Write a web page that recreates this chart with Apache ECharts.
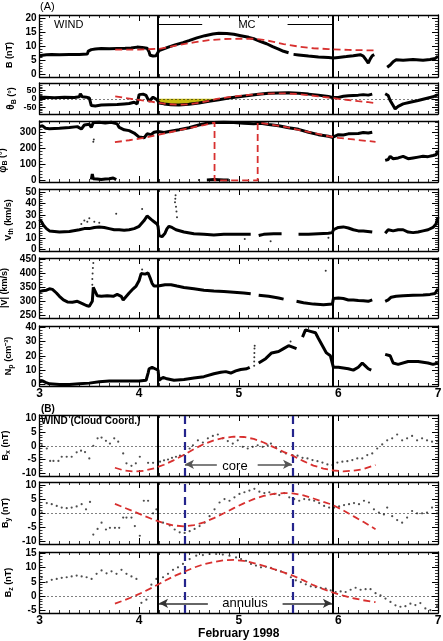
<!DOCTYPE html>
<html><head><meta charset="utf-8">
<script src="https://cdn.jsdelivr.net/npm/echarts@6.0.0/dist/echarts.min.js"></script>
<style>html,body{margin:0;padding:0;background:#fff;}#c{width:443px;height:641px;}</style>
</head><body><div id="c"></div>
<script>
// ================= DATA =================
const xTicks = [3, 4, 5, 6, 7];
const cloudBounds = [4.193, 5.94];
const coreBounds = [4.457, 5.54];

// (A) |B| (nT)
const bMag = [[3.0,6.5],[3.03,6.8],[3.07,7.0],[3.12,7.1],[3.2,7.0],[3.3,7.1],[3.4,7.1],[3.48,7.2],[3.49,8.3],[3.52,8.8],[3.56,9.0],[3.62,9.2],[3.7,9.1],[3.78,9.2],[3.86,9.3],[3.92,9.4],[3.98,9.7],[4.03,9.6],[4.08,9.3],[4.1,8.0],[4.11,6.8],[4.14,6.5],[4.17,6.6],[4.19,7.0],
 [4.2,8.5],[4.24,9.0],[4.3,9.8],[4.36,10.5],[4.44,11.3],[4.5,12.0],[4.58,13.0],[4.66,13.8],[4.74,14.4],[4.8,14.7],[4.88,14.6],[4.95,14.3],[5.02,13.8],[5.1,13.2],[5.16,12.6],[5.22,11.7],[5.28,10.9],[5.34,9.9],[5.4,9.0],[5.45,8.2],[5.5,7.7],[5.52,null],
 [5.55,7.1],[5.6,6.9],[5.7,6.5],[5.8,6.2],[5.9,6.0],[5.95,5.8],[6.0,6.0],[6.08,6.3],[6.15,6.6],[6.22,7.0],[6.25,6.5],[6.28,5.0],[6.3,4.0],[6.32,5.5],[6.34,6.6],[6.36,7.0],[6.38,null],
 [6.49,2.5],[6.52,3.3],[6.55,4.5],[6.58,5.2],[6.65,5.0],[6.75,5.3],[6.85,5.0],[6.92,5.3],[6.97,5.6],[7.0,6.5]];
const bModel = [[3.76,8.8],[4.0,8.8],[4.2,9.1],[4.3,9.7],[4.4,10.5],[4.55,11.4],[4.7,12.2],[4.85,12.6],[5.0,12.7],[5.15,12.7],[5.25,12.3],[5.35,11.6],[5.45,10.8],[5.6,9.9],[5.75,9.3],[5.9,9.0],[6.1,8.7],[6.37,8.5]];

// θ_B (deg)
const thetaData = [[3.0,8],[3.05,10],[3.15,7],[3.25,9],[3.35,8],[3.4,12],[3.41,30],[3.43,12],[3.47,10],[3.5,5],[3.52,-40],[3.56,-42],[3.62,-37],[3.7,-35],[3.78,-33],[3.85,-30],[3.9,-28],[3.95,-20],[3.98,-30],[4.0,25],[4.04,28],[4.07,20],[4.1,-15],[4.12,-20],[4.14,10],[4.16,15],[4.18,-5],[4.19,-15],
 [4.2,-25],[4.25,-30],[4.32,-35],[4.4,-36],[4.5,-32],[4.6,-25],[4.7,-15],[4.8,-5],[4.9,5],[5.0,12],[5.1,20],[5.2,27],[5.3,33],[5.4,35],[5.5,36],[5.6,33],[5.7,28],[5.8,22],[5.9,14],[5.94,8],
 [5.95,5],[6.0,8],[6.05,15],[6.1,18],[6.15,20],[6.2,22],[6.25,25],[6.3,22],[6.34,28],[6.36,null],[6.47,30],[6.48,40],[6.5,20],[6.52,-10],[6.55,-40],[6.57,-60],[6.6,-45],[6.65,-30],[6.72,-20],[6.8,-10],[6.9,5],[6.95,12],[7.0,25]];
const thetaModel = [[3.76,15],[3.85,6],[3.95,-3],[4.05,-11],[4.12,-17],[4.2,-24],[4.3,-32],[4.4,-35],[4.5,-32],[4.6,-24],[4.7,-12],[4.78,0],[4.9,10],[5.0,17],[5.1,23],[5.2,28],[5.3,31],[5.4,33],[5.5,32],[5.6,28],[5.7,22],[5.8,15],[5.9,8],[6.0,0],[6.1,-7],[6.2,-14],[6.3,-20],[6.37,-25]];
const thetaFill = [[4.2,-24],[4.3,-32],[4.4,-35],[4.5,-32],[4.6,-24],[4.7,-12],[4.78,0]];

// φ_B (deg)
const phiData = [[3.0,335],[3.03,340],[3.06,325],[3.1,322],[3.2,325],[3.3,330],[3.38,335],[3.4,340],[3.42,320],[3.45,345],[3.5,350],[3.52,330],[3.54,360],[3.6,362],[3.66,358],[3.72,362],[3.78,352],[3.8,330],[3.85,315],[3.9,310],[3.95,295],[4.0,270],[4.05,265],[4.08,290],[4.12,285],[4.15,300],[4.19,305],
 [4.2,295],[4.25,298],[4.3,305],[4.4,315],[4.5,328],[4.6,345],[4.68,356],[4.75,360],[4.85,362],[4.95,360],[5.05,356],[5.15,353],[5.22,356],[5.3,348],[5.4,340],[5.5,328],[5.6,318],[5.7,300],[5.8,285],[5.9,275],[5.94,268],
 [5.95,280],[6.0,285],[6.05,283],[6.1,290],[6.2,292],[6.25,298],[6.3,295],[6.34,300],[6.36,null],[6.47,125],[6.5,130],[6.52,150],[6.55,135],[6.6,140],[6.65,150],[6.7,135],[6.75,140],[6.8,145],[6.85,150],[6.9,148],[6.95,155],[6.98,160],[7.0,185]];
const phiWrapped = [[3.52,5],[3.53,40],[3.54,10],[3.58,8],[3.62,5],[3.66,8],[3.7,10],[3.74,15],[3.77,5],[3.78,null],[4.68,3],[4.75,5],[4.85,2],[4.9,3]];
const phiDots = [[3.54,240],[3.545,255],[4.6,2]];
const phiModel = [[3.757,238],[3.9,250],[4.05,265],[4.2,285],[4.35,305],[4.5,325],[4.65,345],[4.757,360],[4.757,0],[5.19,0],[5.19,360],[5.3,350],[5.45,335],[5.6,315],[5.75,295],[5.9,275],[6.0,265],[6.15,255],[6.3,245],[6.373,240]];

// V_th (km/s)
const vthData = [[3.0,26],[3.02,24],[3.04,21],[3.07,18],[3.1,16],[3.15,15.5],[3.2,15],[3.3,15.5],[3.4,17],[3.45,18],[3.5,18],[3.55,19],[3.6,19.5],[3.65,19],[3.7,18],[3.75,17],[3.8,17],[3.85,16.5],[3.9,17],[3.95,18],[4.0,20],[4.05,25],[4.08,29],[4.1,30],[4.12,26],[4.15,24],[4.18,22],[4.19,20],
 [4.2,12],[4.23,11],[4.26,14],[4.28,18],[4.3,20],[4.33,19],[4.37,17],[4.45,15],[4.55,13.5],[4.65,13],[4.75,12.5],[4.85,13],[4.95,13],[5.05,13],[5.12,13],[5.14,null],[5.2,12],[5.25,13],[5.35,13.5],[5.43,13.5],[5.45,null],[5.6,13],[5.7,13],[5.8,13.5],[5.9,14],[5.94,14.5],
 [5.95,17],[6.0,19],[6.05,19.5],[6.1,18.5],[6.15,17],[6.2,16],[6.25,16],[6.34,15],[6.36,null],[6.47,14],[6.5,17],[6.55,16],[6.6,17],[6.65,17],[6.7,15],[6.75,14.5],[6.8,15],[6.85,16],[6.9,17],[6.95,19],[6.98,22],[7.0,28]];
const vthDots = [[4.36,41],[4.363,44],[4.366,47],[4.37,37],[4.375,33],[4.38,28],[3.77,31],[4.03,35],[5.06,9],[5.32,7],[5.9,10],[3.45,25],[3.48,24],[3.5,27],[3.55,24],[3.6,23],[3.42,22]];

// |V| (km/s)
const speedData = [[3.0,335],[3.03,338],[3.07,340],[3.1,345],[3.13,343],[3.17,330],[3.2,318],[3.24,305],[3.28,298],[3.33,297],[3.38,300],[3.43,292],[3.47,285],[3.5,282],[3.52,278],[3.53,300],[3.54,350],[3.56,345],[3.58,320],[3.62,318],[3.68,320],[3.74,318],[3.78,325],[3.82,318],[3.84,305],[3.86,310],[3.9,330],[3.94,345],[3.97,355],[4.0,375],[4.02,400],[4.06,398],[4.09,402],[4.11,385],[4.13,365],[4.15,355],[4.19,355],
 [4.2,355],[4.26,360],[4.32,360],[4.38,355],[4.45,350],[4.55,345],[4.65,340],[4.75,337],[4.85,335],[4.95,333],[5.05,330],[5.12,327],[5.14,null],[5.2,322],[5.3,318],[5.4,312],[5.45,308],[5.5,null],[5.58,300],[5.65,295],[5.75,290],[5.85,288],[5.94,290],
 [5.95,310],[6.0,312],[6.05,310],[6.1,305],[6.15,305],[6.2,303],[6.25,302],[6.3,300],[6.34,305],[6.36,null],[6.47,300],[6.5,305],[6.53,315],[6.58,318],[6.65,320],[6.75,322],[6.85,323],[6.92,325],[6.97,328],[7.0,345]];
const speedDots = [[3.53,380],[3.533,400],[3.536,420],[3.54,438],[3.53,360],[5.873,410],[4.03,415]];

// N_p (cm^-3)
const densData = [[3.0,2],[3.03,2.5],[3.06,1.5],[3.1,0.5],[3.2,0],[3.3,0],[3.4,0.5],[3.5,1],[3.6,2],[3.7,2.5],[3.8,2.5],[3.9,2.5],[4.0,2.5],[4.07,3],[4.09,8],[4.1,11],[4.13,12],[4.16,11],[4.19,10],
 [4.2,3],[4.24,5],[4.28,4],[4.35,3],[4.45,3.5],[4.55,4.5],[4.65,5.5],[4.75,7.5],[4.82,8.5],[4.87,9],[4.92,8],[4.97,9.5],[5.02,10.5],[5.08,11],[5.11,12],[5.12,null],[5.2,15],[5.27,18],[5.33,22],[5.4,23],[5.45,25],[5.5,27],[5.54,26],[5.58,25],[5.6,null],[5.64,33],[5.67,38],[5.72,37],[5.77,36],[5.8,32],[5.84,27],[5.88,22],[5.92,20],[5.94,19],
 [5.95,12],[6.0,12],[6.05,11.5],[6.1,11],[6.15,10],[6.2,12],[6.24,15],[6.27,13],[6.3,11],[6.33,10],[6.34,null],[6.47,21],[6.52,20],[6.55,15],[6.6,14],[6.7,16],[6.8,16],[6.9,15],[6.95,14],[7.0,15]];
const densDots = [[5.155,13],[5.155,16],[5.156,19],[5.157,22],[5.158,25],[5.16,27],[5.52,30]];

// (B) cloud coordinates, hourly (nT)
const bxData = [[3.023,0.2],[3.073,-1],[3.107,-5.5],[3.14,-5.5],[3.19,-5.5],[3.223,-4],[3.273,-4],[3.323,-4],[3.373,-2.4],[3.417,-1.8],[3.457,-2.3],[3.5,-4.6],[3.54,0],[3.583,2.7],[3.623,3],[3.667,1.8],[3.707,0.8],[3.75,2.7],[3.79,1.5],[3.84,-2.8],[3.873,-6.4],[3.923,-7.3],[3.967,-6.4],[4.007,-4],[4.09,-6.2],[4.14,-6.2],
 [4.21,-5.8],[4.25,-5.3],[4.29,-5.0],[4.33,-4.4],[4.37,-4.0],[4.41,-3.6],[4.45,-3.4],[4.507,-1],[4.54,0.2],[4.59,2],[4.64,1.2],[4.69,2.7],[4.74,3.6],[4.79,4.1],[4.84,2.7],[4.89,1.7],[4.94,0.8],[4.99,2],[5.04,-0.4],[5.09,-1],[5.14,-0.4],[5.19,0.2],[5.24,-0.4],[5.29,0.2],[5.323,0.8],[5.373,-0.7],[5.423,-2.2],[5.473,-2.8],[5.54,-3.4],[5.59,-3.6],[5.64,-4.4],[5.69,-4.6],[5.74,-5.2],[5.79,-5.6],[5.84,-6.1],[5.89,-6.8],[5.94,-7],
 [5.99,-6.1],[6.04,-5.8],[6.09,-5.6],[6.14,-5.2],[6.19,-4.6],[6.24,-4.6],[6.29,-3.4],[6.34,-2.8],[6.39,-1],[6.44,0.5],[6.49,2],[6.54,2.7],[6.59,4.1],[6.64,2],[6.69,2.7],[6.74,3.6],[6.79,2],[6.84,2.7],[6.89,2],[6.94,1.5],[6.99,1.7]];
const bxModel = [[3.757,-8.0],[3.85,-9.0],[3.95,-9.4],[4.05,-9.1],[4.15,-8.2],[4.25,-6.9],[4.35,-5.2],[4.457,-3.2],[4.55,-1.2],[4.65,0.6],[4.75,2.0],[4.85,2.9],[4.95,3.3],[5.05,3.2],[5.15,2.5],[5.25,1.2],[5.35,-0.5],[5.45,-2.2],[5.54,-3.6],[5.65,-5.6],[5.75,-7.2],[5.85,-8.3],[5.95,-9.0],[6.05,-9.3],[6.15,-9.1],[6.25,-8.5],[6.373,-7.0]];

const byData = [[3.023,0.2],[3.073,3.6],[3.123,3.2],[3.173,2.6],[3.223,2],[3.273,1.8],[3.323,2],[3.373,2.4],[3.423,3.2],[3.467,1.4],[3.507,4],[3.54,-7.5],[3.583,-5.5],[3.623,-3.3],[3.667,-5.7],[3.707,-5.1],[3.757,-5.1],[3.8,-5.1],[3.84,-1.5],[3.873,-1.5],[3.923,-1.5],[3.957,-4.5],[4.007,-7.9],[4.047,4.4],[4.09,4.4],[4.14,0],[4.173,1.4],
 [4.24,-3.3],[4.307,-4.3],[4.357,-5.7],[4.407,-6.7],[4.457,-6.9],[4.507,-6.3],[4.557,-5.5],[4.607,-4.5],[4.657,-3.3],[4.707,-1],[4.757,1.4],[4.807,3.8],[4.857,5],[4.907,4.4],[4.957,5.6],[5.007,6.8],[5.057,7.4],[5.107,8],[5.157,8.6],[5.207,7.6],[5.257,7.1],[5.307,7.4],[5.357,6.8],[5.407,6.4],[5.457,7.1],[5.507,5.6],[5.557,5],[5.607,4.4],[5.657,5],[5.707,4.8],[5.757,4.4],[5.807,3.6],[5.857,2.6],[5.907,2],
 [5.957,2],[6.007,2.4],[6.057,2.9],[6.107,3.2],[6.157,3.6],[6.207,3.2],[6.257,4.4],[6.307,3.8],[6.357,1.4],[6.407,0.2],[6.457,-0.4],[6.49,2],[6.54,-1],[6.59,-2.4],[6.64,-3.3],[6.69,-1.5],[6.74,0.8],[6.79,0],[6.84,0],[6.89,0.2],[6.94,2],[6.99,0]];
const byModel = [[3.757,3.3],[3.85,2.0],[3.95,0.6],[4.05,-0.9],[4.15,-2.3],[4.25,-3.5],[4.35,-4.3],[4.457,-4.6],[4.55,-4.2],[4.65,-3.2],[4.75,-1.7],[4.85,0.0],[4.95,1.8],[5.05,3.5],[5.15,5.0],[5.25,6.1],[5.35,6.8],[5.45,7.1],[5.54,7.0],[5.65,6.3],[5.75,5.2],[5.85,4.0],[5.94,3.0],[6.05,1.0],[6.15,-1.0],[6.25,-3.0],[6.373,-5.6]];

const bzData = [[3.023,6.6],[3.073,4.9],[3.123,5.7],[3.173,6],[3.223,6.4],[3.273,6.6],[3.323,6.9],[3.373,7.2],[3.423,6.9],[3.473,6.6],[3.523,6],[3.573,7.8],[3.623,9],[3.673,8],[3.723,8.7],[3.773,7.8],[3.823,9.2],[3.873,7.8],[3.923,6.9],[3.973,6],[4.023,-2.4],[4.073,-1.3],[4.123,4],[4.173,6],
 [4.24,6.6],[4.29,7.8],[4.34,9.2],[4.39,10.1],[4.44,11.3],[4.507,13],[4.573,14.2],[4.64,14.4],[4.707,14.8],[4.773,14.8],[4.84,14.6],[4.907,14.2],[4.973,13.6],[5.023,13],[5.073,12.4],[5.123,11.3],[5.173,10.7],[5.223,10.1],[5.273,10.3],[5.323,9.9],[5.373,9.2],[5.423,8.7],[5.473,8],[5.523,6.6],[5.573,5.5],[5.623,4.9],[5.673,4.1],[5.723,3.4],[5.773,3.1],[5.823,2.9],[5.873,2.6],[5.923,2],
 [5.973,1.4],[6.023,1.6],[6.073,1.4],[6.123,2.2],[6.173,2.9],[6.223,2.2],[6.273,2.4],[6.323,2.4],[6.373,1],[6.423,0.2],[6.473,-0.9],[6.523,-2.1],[6.573,-3.3],[6.623,-3.8],[6.673,-3.6],[6.723,-2.7],[6.773,-3.2],[6.823,-2.5],[6.873,-4.4],[6.923,-5],[6.99,-3.6]];
const bzModel = [[3.757,-2.7],[3.85,-1.5],[3.95,-0.1],[4.05,1.5],[4.15,3.3],[4.25,5.2],[4.35,7.0],[4.457,8.6],[4.55,10.0],[4.65,11.2],[4.75,12.0],[4.85,12.6],[4.95,12.7],[5.05,12.4],[5.15,11.6],[5.25,10.6],[5.35,9.5],[5.45,8.3],[5.54,7.2],[5.65,5.5],[5.75,3.8],[5.85,2.4],[5.94,1.3],[6.05,0.1],[6.15,-0.8],[6.25,-1.5],[6.373,-2.2]];

// tick labels per panel
const yTickLabels = [[0,5,10,15,20],[-50,0,50],[0,100,200,300],[0,10,20,30,40,50],[250,300,350,400,450],[0,10,20,30,40],[-10,-5,0,5,10],[-10,-5,0,5,10],[-5,0,5,10,15]];
const yMinorStep = [1,10,20,2,10,2,1,1,1];
const yRanges = [[-1,21.2],[-90,94],[-10,370],[-1.5,52.5],[240,456],[-1,40.7],[-11,11.2],[-10.8,11],[-6,15.5]];
const yNames = ['B (nT)','{g|θ}{s|B} (°)','{g|φ}{s|B} (°)','V{s|th} (km/s)','|V| (km/s)','N{s|p} (cm⁻³)','B{s|x} (nT)','B{s|y} (nT)','B{s|z} (nT)'];

// ================= LAYOUT =================
const gridBox = [[15,62],[83,31],[121,61],[189,62],[258,60],[326,60],[415,61],[482,62],[552,61]];
const FONT = '"Liberation Sans", Arial, Helvetica, sans-serif';
const RED = '#d8302f';
const BLUE = '#24248c';
const xMinor = []; for (let v = 3; v <= 7.0001; v += 0.1) xMinor.push(+v.toFixed(2));

const grids = gridBox.map(([t,h]) => ({left: 39.5, right: 5, top: t, height: h, containLabel: false, outerBoundsMode: 'none'}));
const xAxes = [], yAxes = [];
const yLabelStyle = (gi) => ({color:'#000',fontFamily:FONT,fontWeight:'bold',fontSize: gi === 1 ? 9 : 10,margin:3,hideOverlap:false});
gridBox.forEach((g, gi) => {
  const showX = (gi === 5 || gi === 8);
  const base = {type:'value', gridIndex: gi, min: 3, max: 7, splitLine:{show:false}, minorTick:{show:false}, axisPointer:{show:false}};
  xAxes.push(Object.assign({}, base, {position:'bottom',
    axisLine:{show:true,onZero:false,lineStyle:{color:'#000',width:1.3}},
    axisTick:{show:true,inside:true,length:6,customValues:xTicks,lineStyle:{color:'#000',width:1}},
    axisLabel:{show:showX,customValues:xTicks,hideOverlap:false,color:'#000',fontFamily:FONT,fontWeight:'bold',fontSize:12,margin:2},
    name: gi === 8 ? 'February 1998' : '', nameLocation:'middle', nameGap: 13,
    nameTextStyle:{color:'#000',fontFamily:FONT,fontWeight:'bold',fontSize:12}}));
  xAxes.push(Object.assign({}, base, {position:'bottom',
    axisLine:{show:false,onZero:false}, axisLabel:{show:false},
    axisTick:{show:true,inside:true,length:3,customValues:xMinor,lineStyle:{color:'#000',width:0.8}}}));
  xAxes.push(Object.assign({}, base, {position:'top',
    axisLine:{show:true,onZero:false,lineStyle:{color:'#000',width:1.3}}, axisLabel:{show:false},
    axisTick:{show:true,inside:true,length:6,customValues:xTicks,lineStyle:{color:'#000',width:1}}}));
  xAxes.push(Object.assign({}, base, {position:'top',
    axisLine:{show:false,onZero:false}, axisLabel:{show:false},
    axisTick:{show:true,inside:true,length:3,customValues:xMinor,lineStyle:{color:'#000',width:0.8}}}));

  const [mn, mx] = yRanges[gi];
  const minors = [];
  const st = yMinorStep[gi];
  for (let v = Math.ceil(mn/st)*st; v <= mx + 1e-9; v += st) minors.push(+v.toFixed(3));
  const yb = {type:'value', gridIndex: gi, min: mn, max: mx, splitLine:{show:false}, minorTick:{show:false}, axisPointer:{show:false}};
  const pad = (gi === 0 || gi === 2) ? [0, 18, 0, 0] : 0;
  // the tight theta panel gets one label per axis so no label is dropped for overlap
  const mainLabels = gi === 1 ? [0] : yTickLabels[gi];
  yAxes.push(Object.assign({}, yb, {position:'left',
    axisLine:{show:true,onZero:false,lineStyle:{color:'#000',width:1.3}},
    axisTick:{show:true,inside:true,length:6,customValues:yTickLabels[gi],lineStyle:{color:'#000',width:1}},
    axisLabel:Object.assign({show:true,customValues:mainLabels}, yLabelStyle(gi)),
    name: yNames[gi], nameLocation:'middle', nameGap: 22, nameRotate: 90,
    nameTextStyle:{color:'#000',fontFamily:FONT,fontWeight:'bold',fontSize:9, padding: pad,
      rich:{g:{fontSize:10,fontWeight:'bold',fontFamily:FONT,color:'#000'}, s:{fontSize:7,fontWeight:'bold',fontFamily:FONT,color:'#000',padding:[5,0,0,0]}}}}));
  yAxes.push(Object.assign({}, yb, {position:'left',
    axisLine:{show:false,onZero:false}, axisLabel:{show:false},
    axisTick:{show:true,inside:true,length:3,customValues:minors,lineStyle:{color:'#000',width:0.8}}}));
  yAxes.push(Object.assign({}, yb, {position:'right',
    axisLine:{show:true,onZero:false,lineStyle:{color:'#000',width:1.3}}, axisLabel:{show:false},
    axisTick:{show:true,inside:true,length:6,customValues:yTickLabels[gi],lineStyle:{color:'#000',width:1}}}));
  yAxes.push(Object.assign({}, yb, {position:'right',
    axisLine:{show:false,onZero:false}, axisLabel:{show:false},
    axisTick:{show:true,inside:true,length:3,customValues:minors,lineStyle:{color:'#000',width:0.8}}}));
});
// extra label-only axes for the theta panel (±50)
[-50, 50].forEach(v => {
  yAxes.push({type:'value', gridIndex:1, min:yRanges[1][0], max:yRanges[1][1], position:'left',
    splitLine:{show:false}, axisLine:{show:false,onZero:false}, axisTick:{show:false}, minorTick:{show:false},
    axisLabel:Object.assign({show:true,customValues:[v]}, yLabelStyle(1))});
});

const series = [];
function dataLine(gi, data, w) {
  series.push({type:'line', xAxisIndex: gi*4, yAxisIndex: gi*4, data, showSymbol:false, symbol:'none',
    lineStyle:{color:'#000', width: w || 3}, silent:true, animation:false, z:3, connectNulls:false});
}
function dots(gi, data, size, color) {
  series.push({type:'scatter', xAxisIndex: gi*4, yAxisIndex: gi*4, data, symbolSize: size || 2,
    itemStyle:{color: color || '#000'}, silent:true, animation:false, z:3});
}
function model(gi, data) {
  series.push({type:'line', xAxisIndex: gi*4, yAxisIndex: gi*4, data, showSymbol:false, symbol:'none',
    lineStyle:{color:RED, width:1.8, type:[7,4]}, silent:true, animation:false, z:5});
}
function overlay(gi, zero, blue) {
  const d = cloudBounds.map(x => ({xAxis:x, lineStyle:{color:'#000', width:2, type:'solid'}}));
  if (zero) d.push({yAxis:0, lineStyle:{color:'#000', width:1, type:[1,3]}});
  if (blue) coreBounds.forEach(x => d.push({xAxis:x, lineStyle:{color:BLUE, width:2.2, type:[8,5]}}));
  series.push({type:'line', xAxisIndex: gi*4, yAxisIndex: gi*4, data:[], silent:true, animation:false, z:6,
    markLine:{silent:true, symbol:['none','none'], label:{show:false}, animation:false, data:d}});
}
function arrowLines(gi, pairs, color) {
  series.push({type:'line', xAxisIndex: gi*4, yAxisIndex: gi*4, data:[], silent:true, animation:false, z:7,
    markLine:{silent:true, symbol:['none','arrow'], symbolSize:[7,9], label:{show:false}, animation:false,
      lineStyle:{color: color, width:1.5, type:'solid'},
      data: pairs.map(p => [{coord:p[0]},{coord:p[1]}])}});
}
function plainLines(gi, pairs) {
  series.push({type:'line', xAxisIndex: gi*4, yAxisIndex: gi*4, data:[], silent:true, animation:false, z:7,
    markLine:{silent:true, symbol:['none','none'], label:{show:false}, animation:false,
      lineStyle:{color:'#000', width:1.2, type:'solid'},
      data: pairs.map(p => [{coord:p[0]},{coord:p[1]}])}});
}

// panel 0: |B|
dataLine(0, bMag); model(0, bModel); overlay(0, false, false);
plainLines(0, [[[4.2,17.8],[4.633,17.8]], [[5.49,17.8],[5.94,17.8]]]);
// panel 1: theta
series.push({type:'line', xAxisIndex:4, yAxisIndex:4, data: thetaFill, showSymbol:false, symbol:'none',
  lineStyle:{width:0}, areaStyle:{color:'#c8bb10', opacity:1, origin:0}, silent:true, animation:false, z:2});
dataLine(1, thetaData); model(1, thetaModel); overlay(1, true, false);
// panel 2: phi
dataLine(2, phiData); dataLine(2, phiWrapped); dots(2, phiDots, 2); model(2, phiModel); overlay(2, false, false);
// panel 3: Vth
dataLine(3, vthData); dots(3, vthDots, 2); overlay(3, false, false);
// panel 4: |V|
dataLine(4, speedData); dots(4, speedDots, 2); overlay(4, false, false);
// panel 5: Np
dataLine(5, densData); dots(5, densDots, 2); overlay(5, false, false);
// panel 6-8: cloud coords
dots(6, bxData, 2.2, '#222'); model(6, bxModel); overlay(6, true, true);
arrowLines(6, [[[4.78,-6.74],[4.46,-6.74]], [[5.19,-6.74],[5.535,-6.74]]], '#555');
dots(7, byData, 2.2, '#222'); model(7, byModel); overlay(7, true, true);
dots(8, bzData, 2.2, '#222'); model(8, bzModel); overlay(8, true, true);
arrowLines(8, [[[4.69,-2.58],[4.2,-2.58]], [[5.44,-2.58],[5.935,-2.58]]], '#333');

const txt = (x, y, text, o) => ({type:'text', x, y, silent:true, z:100,
  style: {text, fill:'#000', font: (o && o.font) || ('11px ' + FONT), textAlign:(o&&o.align)||'left', textVerticalAlign:(o&&o.va)||'top'}});

const option = {
  backgroundColor:'#fff', animation:false,
  grid: grids, xAxis: xAxes, yAxis: yAxes, series,
  graphic: [
    txt(40, 1, '(A)', {font:'11px ' + FONT}),
    txt(54, 19, 'WIND', {font:'11px ' + FONT}),
    txt(247, 19, 'MC', {font:'11px ' + FONT, align:'center'}),
    txt(41, 404, '(B)', {font:'bold 10px ' + FONT}),
    txt(41, 416, 'WIND (Cloud Coord.)', {font:'bold 10px ' + FONT}),
    txt(235, 466.5, 'core', {font:'13px ' + FONT, align:'center', va:'middle'}),
    txt(245, 603.5, 'annulus', {font:'13px ' + FONT, align:'center', va:'middle'})
  ]
};
const chart = echarts.init(document.getElementById('c'), null, {renderer:'canvas'});
chart.setOption(option);
</script></body></html>
